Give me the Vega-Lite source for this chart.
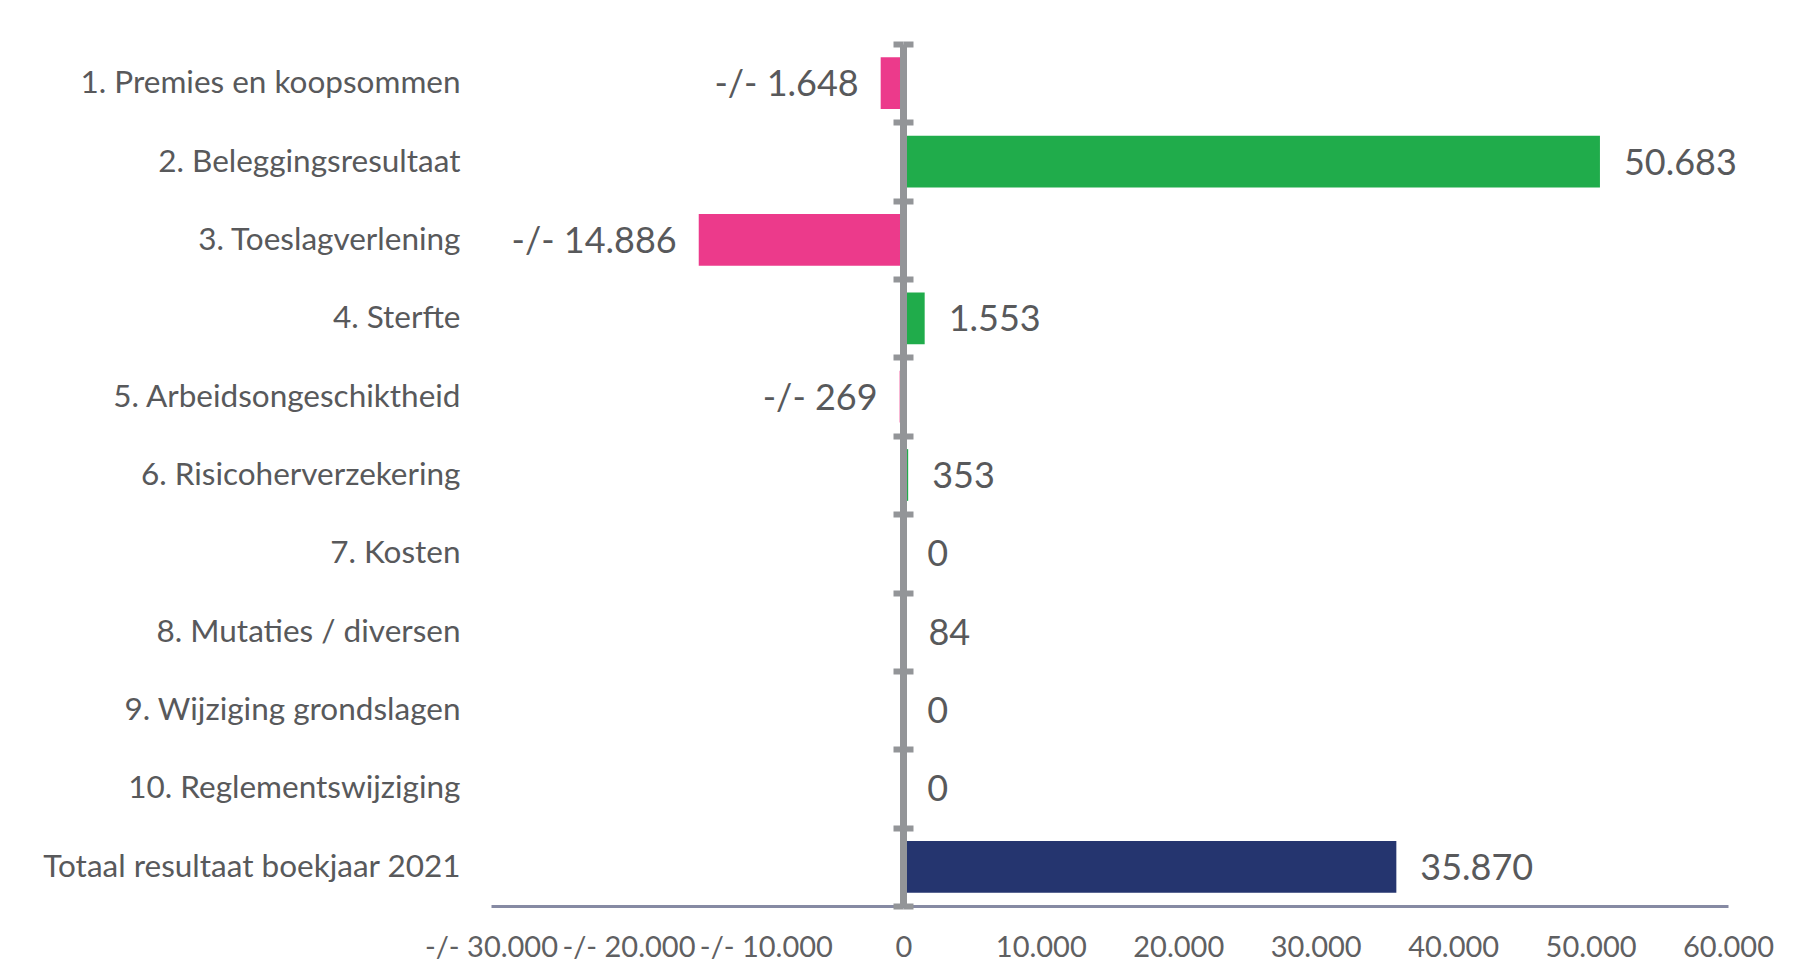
{
  "$schema": "https://vega.github.io/schema/vega-lite/v6.json",
  "width": 1237,
  "height": 862,
  "autosize": {"type": "none"},
  "padding": {"left": 491, "top": 44, "right": 70, "bottom": 66},
  "background": "white",
  "config": {"view": {"stroke": null}, "font": "Lato"},
  "data": {
    "values": [
      {"cat": "1. Premies en koopsommen", "value": -1648, "label": "-/- 1.648", "type": "neg"},
      {"cat": "2. Beleggingsresultaat", "value": 50683, "label": "50.683", "type": "pos"},
      {"cat": "3. Toeslagverlening", "value": -14886, "label": "-/- 14.886", "type": "neg"},
      {"cat": "4. Sterfte", "value": 1553, "label": "1.553", "type": "pos"},
      {"cat": "5. Arbeidsongeschiktheid", "value": -269, "label": "-/- 269", "type": "neg"},
      {"cat": "6. Risicoherverzekering", "value": 353, "label": "353", "type": "pos"},
      {"cat": "7. Kosten", "value": 0, "label": "0", "type": "pos"},
      {"cat": "8. Mutaties / diversen", "value": 84, "label": "84", "type": "pos"},
      {"cat": "9. Wijziging grondslagen", "value": 0, "label": "0", "type": "pos"},
      {"cat": "10. Reglementswijziging", "value": 0, "label": "0", "type": "pos"},
      {"cat": "Totaal  resultaat boekjaar 2021", "value": 35870, "label": "35.870", "type": "total"}
    ]
  },
  "encoding": {
    "x": {
      "field": "value",
      "type": "quantitative",
      "scale": {"domain": [-30000, 60000], "nice": false},
      "axis": {
        "title": null,
        "values": [-30000, -20000, -10000, 0, 10000, 20000, 30000, 40000, 50000, 60000],
        "grid": false,
        "ticks": false,
        "domainColor": "#868aa3",
        "domainWidth": 3,
        "labelFont": "Lato",
        "labelFontSize": 29,
        "labelColor": "#5f6062",
        "labelPadding": 27,
        "labelOverlap": false,
        "labelFlush": false,
        "labelBound": false,
        "labelExpr": "datum.value < 0 ? '-/- ' + replace(format(-datum.value, ','), ',', '.') : replace(format(datum.value, ','), ',', '.')"
      }
    }
  },
  "layer": [
    {
      "mark": {"type": "bar", "height": {"band": 0.66}},
      "encoding": {
        "y": {
          "field": "cat",
          "type": "nominal",
          "sort": null,
          "scale": {"paddingInner": 0, "paddingOuter": 0},
          "axis": {
            "orient": "left",
            "title": null,
            "domain": false,
            "ticks": false,
            "labelFont": "Lato",
            "labelFontSize": 31.5,
            "labelColor": "#58595b",
            "labelPadding": 31,
            "labelOffset": 1,
            "labelLimit": 700
          }
        },
        "color": {
          "field": "type",
          "type": "nominal",
          "scale": {"domain": ["neg", "pos", "total"], "range": ["#ec3a8b", "#20ac4b", "#25356f"]},
          "legend": null
        }
      }
    },
    {
      "transform": [{"filter": "datum.value >= 0"}],
      "mark": {"type": "text", "align": "left", "baseline": "middle", "dx": 24, "dy": 2, "font": "Lato", "fontSize": 36, "color": "#58595b"},
      "encoding": {
        "y": {
          "field": "cat",
          "type": "nominal",
          "sort": null,
          "axis": {
            "orient": "left",
            "offset": -412,
            "title": null,
            "labels": false,
            "domain": true,
            "domainColor": "#939598",
            "domainWidth": 7,
            "ticks": true,
            "tickBand": "extent",
            "tickSize": 10,
            "tickWidth": 6,
            "tickColor": "#939598",
            "zindex": 2
          }
        },
        "text": {"field": "label"}
      }
    },
    {
      "transform": [{"filter": "datum.value < 0"}],
      "mark": {"type": "text", "align": "right", "baseline": "middle", "dx": -22, "dy": 2, "font": "Lato", "fontSize": 36, "color": "#58595b"},
      "encoding": {
        "y": {
          "field": "cat",
          "type": "nominal",
          "sort": null,
          "axis": {
            "orient": "right",
            "offset": -825,
            "title": null,
            "labels": false,
            "domain": false,
            "ticks": true,
            "tickBand": "extent",
            "tickSize": 10,
            "tickWidth": 6,
            "tickColor": "#939598",
            "zindex": 2
          }
        },
        "text": {"field": "label"}
      }
    }
  ],
  "resolve": {"axis": {"y": "independent"}}
}
